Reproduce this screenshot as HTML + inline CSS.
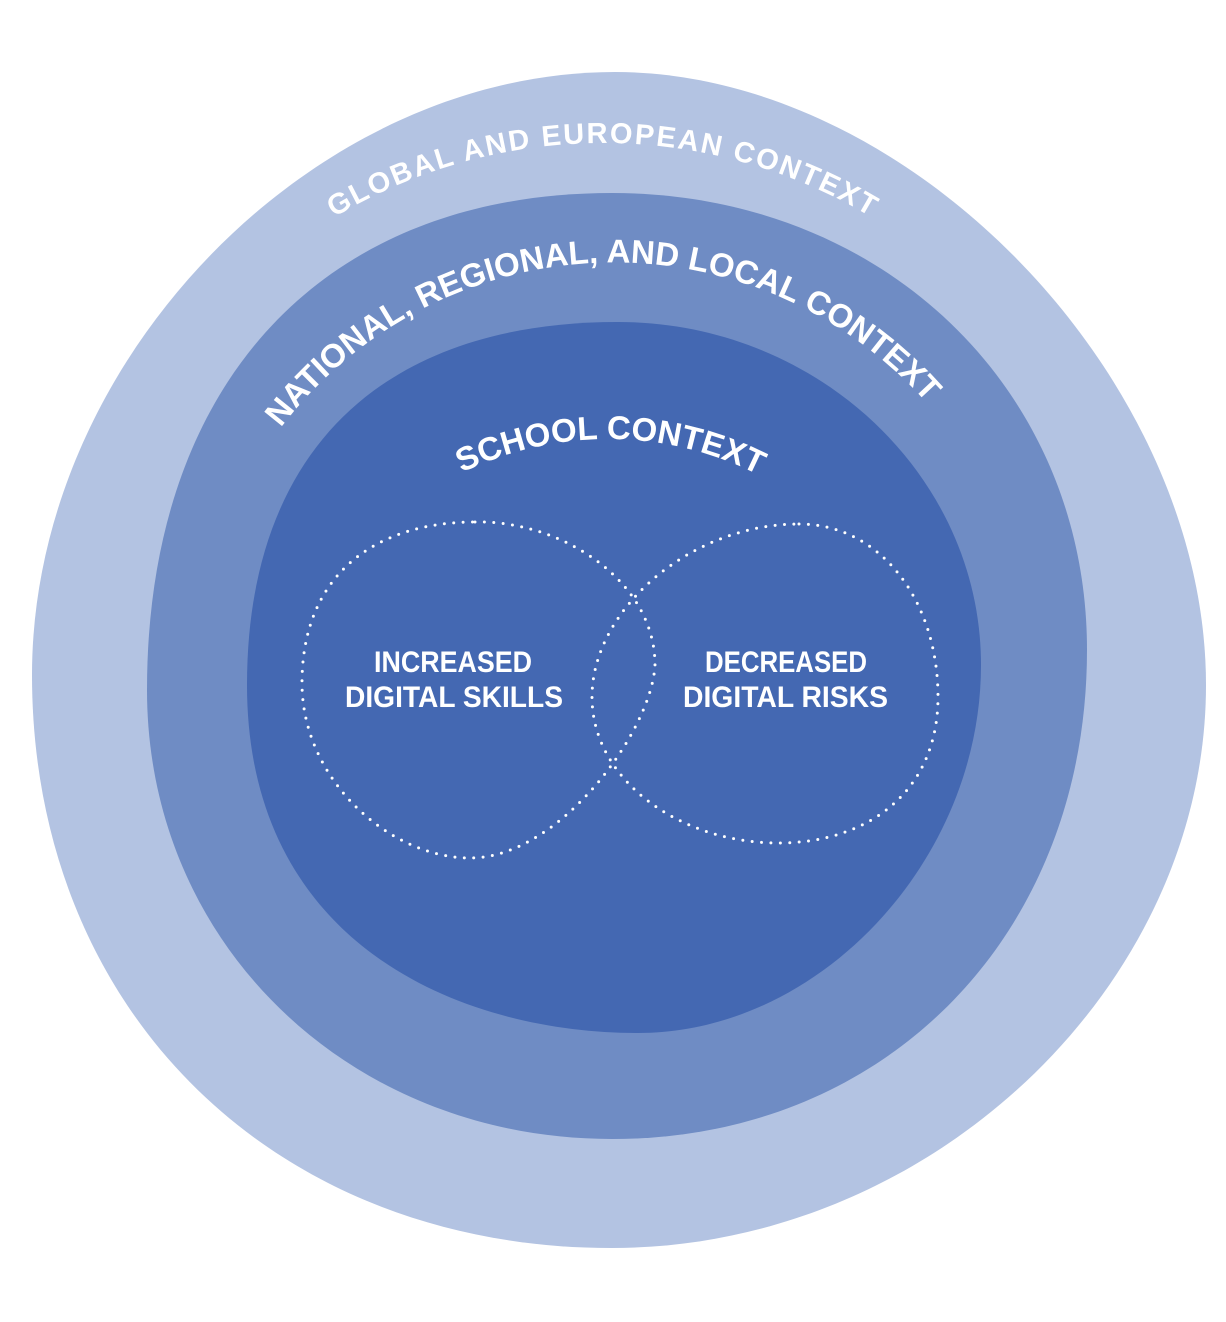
<!DOCTYPE html>
<html>
<head>
<meta charset="utf-8">
<style>
  html, body { margin: 0; padding: 0; background: #ffffff; }
  body { width: 1226px; height: 1322px; overflow: hidden; }
  svg { display: block; }
  .lbl { font-family: "Liberation Sans", "DejaVu Sans", sans-serif; font-weight: bold; fill: #ffffff; }
  .inner { font-family: "Liberation Sans Narrow", "Liberation Sans", sans-serif; font-weight: bold; fill: #ffffff; }
</style>
</head>
<body>
<svg width="1226" height="1322" viewBox="0 0 1226 1322" xmlns="http://www.w3.org/2000/svg">
  <rect x="0" y="0" width="1226" height="1322" fill="#ffffff"/>

  <!-- Outer blob: global and european context -->
  <path d="M615,72 C910.5,72 1206,378.5 1206,685 C1206,986 930,1248 612,1248 C273,1248 32,1010 32,675 C32,361 312,72 615,72 Z" fill="#b3c3e2"/>

  <!-- Middle blob: national, regional, local -->
  <path d="M612,193 C883,193 1087,389.5 1087,650 C1087,933.6 887.5,1139 612,1139 C349.3,1139 147,943.7 147,690 C147,382 323.7,193 612,193 Z" fill="#6f8cc4"/>

  <!-- Inner blob: school -->
  <path d="M618,322 C817.6,322 981,476.4 981,665 C981,860 819.8,1033 638,1033 C462,1033 247,946 247,685 C247,452.7 380.6,322 618,322 Z" fill="#4468b2"/>

  <!-- Dotted venn shapes -->
  <path d="M475,522 C560,520 655,580 655,665 C652,730 560,858 470,858 C390,858 302,780 302,683 C302,575 375,522 475,522 Z"
        fill="none" stroke="#ffffff" stroke-width="3" stroke-linecap="round" stroke-dasharray="0 9.4"/>
  <path d="M799,524 C880,524 938,600 938,697 C938,790 870,843 778,843 C680,843 592,780 592,697 C592,610 690,524 799,524 Z"
        fill="none" stroke="#ffffff" stroke-width="3" stroke-linecap="round" stroke-dasharray="0 9.4"/>

  <!-- Arc paths for curved labels -->
  <defs>
    <path id="arcGlobal" d="M202.4,329.8 A523,523 0 0 1 1003.6,329.8"/>
    <path id="arcNational" d="M243.8,485.8 A418.5,418.5 0 0 1 968.1,458"/>
    <path id="arcSchool" d="M354.6,556 A333,333 0 0 1 864.8,560"/>
  </defs>

  <text class="lbl" font-size="29" letter-spacing="2">
    <textPath href="#arcGlobal" startOffset="50%" text-anchor="middle">GLOBAL AND EUROPEAN CONTEXT</textPath>
  </text>

  <text class="lbl" font-size="33">
    <textPath href="#arcNational" startOffset="50%" text-anchor="middle">NATIONAL, REGIONAL, AND LOCAL CONTEXT</textPath>
  </text>

  <text class="lbl" font-size="33">
    <textPath href="#arcSchool" startOffset="50%" text-anchor="middle">SCHOOL CONTEXT</textPath>
  </text>

  <!-- Inner labels -->
  <text class="inner" font-size="30" x="453" y="672" text-anchor="middle" textLength="158" lengthAdjust="spacingAndGlyphs">INCREASED</text>
  <text class="inner" font-size="30" x="454" y="707" text-anchor="middle" textLength="218" lengthAdjust="spacingAndGlyphs">DIGITAL SKILLS</text>
  <text class="inner" font-size="30" x="786" y="672" text-anchor="middle" textLength="162" lengthAdjust="spacingAndGlyphs">DECREASED</text>
  <text class="inner" font-size="30" x="785.5" y="707" text-anchor="middle" textLength="205" lengthAdjust="spacingAndGlyphs">DIGITAL RISKS</text>
</svg>
</body>
</html>
